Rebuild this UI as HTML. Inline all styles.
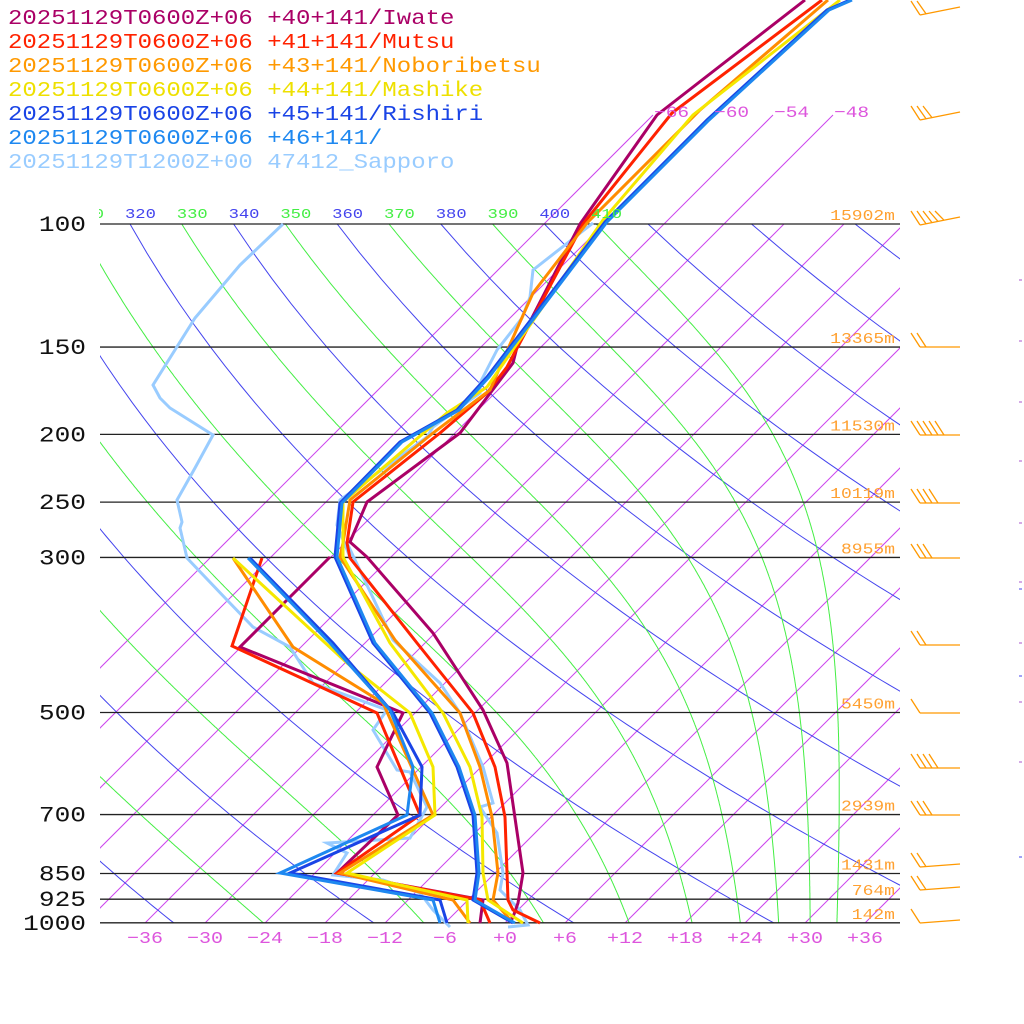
<!DOCTYPE html>
<html><head><meta charset="utf-8">
<style>
html,body{margin:0;padding:0;background:#fff;}
svg{display:block;}
text{font-family:"Liberation Mono","DejaVu Sans Mono",monospace;}
</style></head>
<body>
<svg id="s" width="1024" height="1024" viewBox="0 0 1024 1024" xmlns="http://www.w3.org/2000/svg">
<defs>
<clipPath id="box"><rect x="100" y="224" width="800" height="699"/></clipPath>
<clipPath id="lab"><rect x="99" y="195" width="801" height="30"/></clipPath>
</defs>
<g id="grid"></g>
<g id="data"></g>
<g id="txt"></g>
</svg>
<script>
const NS="http://www.w3.org/2000/svg";
function el(tag,attrs,parent,text){const e=document.createElementNS(NS,tag);for(const k in attrs)e.setAttribute(k,attrs[k]);if(text!==undefined)e.textContent=text;parent.appendChild(e);return e;}
const grid=document.getElementById('grid'),data=document.getElementById('data'),txt=document.getElementById('txt');
function yP(p){return 224+303.5*(Math.log(p)-Math.log(100));}
function xT(T,y){return 505+10*T+(923-y);}
function T2(s,x,y,size,col,cw,anchor,parent){
  const n=s.length, w=n*cw;
  let sx=x; if(anchor==='end')sx=x-w; else if(anchor==='middle')sx=x-w/2;
  return el('text',{x:sx,y:y,fill:col,'font-size':size,textLength:w,lengthAdjust:'spacingAndGlyphs'},parent||txt,s);
}
const iso=el('g',{'clip-path':'url(#box)'},grid);
for(let T=-66;T<=40;T+=6){
  el('line',{x1:xT(T,923),y1:923,x2:xT(T,224),y2:224,stroke:'#cc44ee','stroke-width':1},iso);
}
for(const T of [-66,-60,-54,-48]){
  el('line',{x1:xT(T,224),y1:224,x2:xT(T,115),y2:115,stroke:'#cc44ee','stroke-width':1},grid);
  T2(String(T).replace('-','−'),xT(T,115)+1,117,16,'#dd55dd',11.7,'start');
}
const ad=el('g',{'clip-path':'url(#box)'},grid);
const labg=el('g',{'clip-path':'url(#lab)'},txt);
for(let th=200;th<=480;th+=20){
  const pts=[];
  for(let p=1000;p>=100;p-=10){const y=yP(p);const T=th*Math.pow(p/1000,0.2857)-273.15;pts.push(xT(T,y).toFixed(1)+','+y.toFixed(1));}
  el('polyline',{points:pts.join(' '),fill:'none',stroke:'#4444ee','stroke-width':1},ad);
  const xl=xT(th*Math.pow(0.1,0.2857)-273.15,224);
  if(xl>60&&xl<620) T2(String(th),xl-5,218,14,'#4444ee',10.3,'start',labg);
}
function lapse(T,p){const es=6.112*Math.exp(17.67*(T-273.15)/(T-29.65));const r=0.622*es/(p-es);
  return (287*T+2.5e6*r)/(p*(1004+2.5e6*2.5e6*r*0.622/(287*T*T)));}
for(let th=250;th<=410;th+=20){
  let T=th*Math.pow(0.1,0.2857);const pts=[];
  for(let p=100;p<=1000;p+=1){const y=yP(p);pts.push(xT(T-273.15,y).toFixed(1)+','+y.toFixed(1));T+=lapse(T,p)*1;}
  el('polyline',{points:pts.join(' '),fill:'none',stroke:'#44ee44','stroke-width':1},ad);
  const xl=xT(th*Math.pow(0.1,0.2857)-273.15,224);
  if(xl>60&&xl<640) T2(String(th),xl-5,218,14,'#44ee44',10.3,'start',labg);
}
const P=[[100,'100'],[150,'150'],[200,'200'],[250,'250'],[300,'300'],[500,'500'],[700,'700'],[850,'850'],[925,'925'],[1000,'1000']];
for(const [p,l] of P){const y=yP(p);el('line',{x1:100,y1:y,x2:900,y2:y,stroke:'#222','stroke-width':1.3},grid);
 T2(l,86,y+7,22,'#111',15.7,'end');}
const H=[[100,'15902m'],[150,'13365m'],[200,'11530m'],[250,'10119m'],[300,'8955m'],[500,'5450m'],[700,'2939m'],[850,'1431m'],[925,'764m'],[1000,'142m']];
for(const [p,l] of H){T2(l,895,yP(p)-4,15,'#ffa030',10.8,'end');}
for(let T=-36;T<=36;T+=6){T2((T>=0?'+':'−')+Math.abs(T),505+10*T,943,17,'#dd55dd',12,'middle');}
const WB=[[15,2],[120,3],[225,5],[347,2],[435,5],[503,4],[558,3],[645,2],[713,1],[768,4],[815,3],[867,2],[890,2],[923,1]];
const wg=el('g',{stroke:'#ff9900','stroke-width':1.3,fill:'none'},txt);
for(const [y,n] of WB){const dy=y<300?-8:(y>850?-3:0);
 el('line',{x1:920,y1:y,x2:960,y2:y+dy},wg);
 for(let i=0;i<n;i++){const bx=920+i*6;el('line',{x1:bx,y1:y+dy*(i*6/40),x2:bx-9,y2:y-14},wg);}}
// small right-edge ticks
for(const [y,c] of [[280,'#aa55cc'],[341,'#aa55cc'],[402,'#aa55cc'],[461,'#aa55cc'],[523,'#aa55cc'],[582,'#aa55cc'],[589,'#4444ee'],[643,'#aa55cc'],[676,'#4444ee'],[702,'#aa55cc'],[762,'#aa55cc'],[857,'#4444ee']]){
 el('line',{x1:1019,y1:y,x2:1022,y2:y,stroke:c,'stroke-width':1},txt);}
function line(pts,col,w){el('polyline',{points:pts.map(p=>p.join(',')).join(' '),fill:'none',stroke:col,'stroke-width':w||3,'stroke-linejoin':'miter'},data);}
const C={iw:'#aa0066',mu:'#ff2200',no:'#ff8c00',ma:'#f5e800',ri:'#1a44e6',n46:'#1e88f0',sa:'#99ccff'};
line([[283,224],[240,265],[195,318],[153,385],[160,398],[170,408],[213,435],[195,468],[177,500],[182,522],[180,528],[187,558],[227,600],[253,627],[290,647],[313,683],[387,710],[373,730],[397,770],[410,772],[427,807],[410,838],[327,843],[347,853],[333,875],[383,880],[420,893],[433,910],[450,927]],C.sa);
line([[593,223],[533,270],[530,297],[522,318],[497,350],[480,383],[480,393],[433,427],[427,437],[340,500],[337,525],[350,557],[347,543],[393,640],[440,683],[460,713],[483,767],[493,803],[480,807],[497,833],[503,873],[500,890],[520,910],[528,925],[508,927]],C.sa);
line([[805,0],[657,115],[580,224],[517,347],[513,363],[460,433],[367,502],[350,542],[367,557],[433,633],[483,710],[507,763],[523,873],[518,903],[513,917],[510,923]],C.iw);
line([[330,557],[240,647],[403,713],[377,767],[398,815],[337,873],[483,900],[480,923]],C.iw);
line([[822,0],[672,113],[583,224],[507,367],[487,393],[440,433],[353,502],[347,543],[350,558],[417,643],[473,713],[495,767],[505,817],[508,900],[513,910],[540,923]],C.mu);
line([[262,558],[232,646],[377,713],[420,815],[337,873],[480,900],[490,923]],C.mu);
line([[828,0],[700,110],[587,223],[533,293],[503,360],[490,390],[433,433],[350,500],[343,543],[340,557],[395,640],[460,713],[480,767],[492,817],[498,873],[493,900],[513,923]],C.no);
line([[233,558],[293,647],[383,703],[433,815],[340,873],[453,900],[470,923]],C.no);
line([[840,0],[693,115],[603,220],[487,387],[447,413],[343,502],[343,557],[390,643],[443,713],[470,767],[482,817],[483,873],[488,900],[523,923]],C.ma);
line([[233,558],[347,663],[410,713],[433,767],[435,815],[347,873],[467,900],[468,923]],C.ma);
line([[850,0],[827,10],[707,120],[605,222],[533,317],[487,377],[457,410],[400,442],[340,503],[335,557],[373,643],[430,713],[457,767],[473,815],[477,873],[473,900],[513,923]],C.ri);
line([[250,558],[333,643],[393,713],[422,767],[420,815],[290,873],[440,900],[447,923]],C.ri);
line([[852,0],[829,10],[709,120],[607,222],[535,317],[489,377],[459,410],[402,442],[342,503],[337,557],[375,643],[432,713],[459,767],[475,815],[479,873],[475,900],[515,923]],C.n46);
line([[248,558],[330,643],[390,710],[413,767],[407,815],[280,873],[433,900],[440,923]],C.n46);
const L=[['20251129T0600Z+06 +40+141/Iwate',C.iw],['20251129T0600Z+06 +41+141/Mutsu',C.mu],['20251129T0600Z+06 +43+141/Noboribetsu','#ff9900'],['20251129T0600Z+06 +44+141/Mashike','#eee000'],['20251129T0600Z+06 +45+141/Rishiri',C.ri],['20251129T0600Z+06 +46+141/',C.n46],['20251129T1200Z+00 47412_Sapporo',C.sa]];
L.forEach((l,i)=>T2(l[0],8,24+i*24,21,l[1],14.4,'start'));
</script>
</body></html>
